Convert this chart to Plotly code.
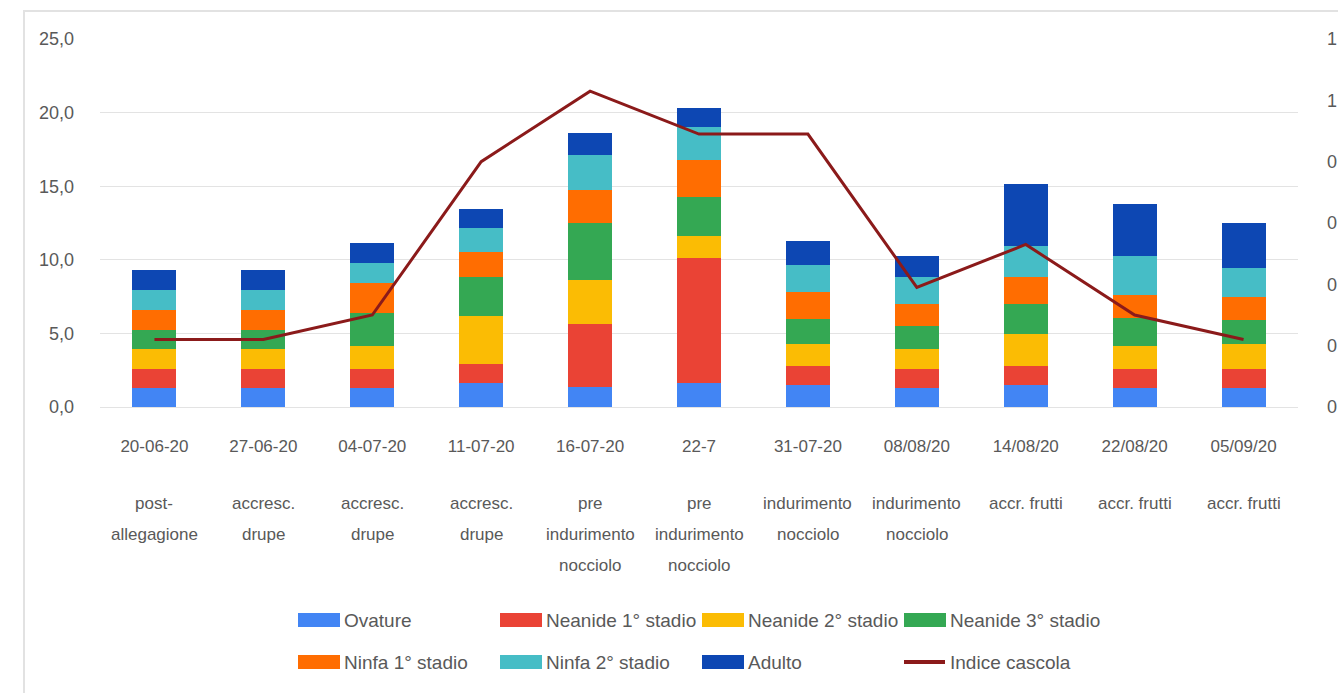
import plotly.graph_objects as go

dates = ["20-06-20", "27-06-20", "04-07-20", "11-07-20", "16-07-20", "22-7",
         "31-07-20", "08/08/20", "14/08/20", "22/08/20", "05/09/20"]
stages = [["post-", "allegagione"], ["accresc.", "drupe"], ["accresc.", "drupe"],
          ["accresc.", "drupe"], ["pre", "indurimento", "nocciolo"],
          ["pre", "indurimento", "nocciolo"], ["indurimento", "nocciolo"],
          ["indurimento", "nocciolo"], ["accr. frutti"], ["accr. frutti"], ["accr. frutti"]]

ovature = [1.29, 1.29, 1.29, 1.63, 1.36, 1.63, 1.47, 1.29, 1.47, 1.29, 1.29]
neanide1 = [1.32, 1.32, 1.32, 1.32, 4.26, 8.46, 1.32, 1.32, 1.32, 1.32, 1.32]
neanide2 = [1.36, 1.36, 1.52, 3.24, 3.04, 1.52, 1.52, 1.36, 2.20, 1.54, 1.70]
neanide3 = [1.29, 1.29, 2.26, 2.61, 3.81, 2.68, 1.65, 1.52, 1.99, 1.90, 1.63]
ninfa1 = [1.36, 1.36, 2.05, 1.70, 2.27, 2.49, 1.86, 1.49, 1.86, 1.55, 1.54]
ninfa2 = [1.36, 1.36, 1.36, 1.63, 2.38, 2.22, 1.82, 1.86, 2.09, 2.65, 1.98]
adulto = [1.36, 1.36, 1.36, 1.32, 1.47, 1.29, 1.65, 1.41, 4.22, 3.51, 3.01]
indice_cascola = [0.22, 0.22, 0.30, 0.80, 1.03, 0.89, 0.89, 0.39, 0.53, 0.30, 0.22]

left_ticks = [0, 5, 10, 15, 20, 25]
right_ticks = [0, 0.2, 0.4, 0.6, 0.8, 1, 1.2]

W, H = 1338, 693
ML, MR, MT, MB = 100, 40, 39, 286
PW, PH = W - ML - MR, H - MT - MB


def px_x(px):
    return (px - ML) / PW


def px_y(py):
    return (H - MB - py) / PH


FONT = "Liberation Sans, Arial, sans-serif"
TXT = "#595959"
LINE_COLOR = "#8B1A1A"

series = [
    ("Ovature", ovature, "#4285F4", "legend"),
    ("Neanide 1° stadio", neanide1, "#EA4335", "legend"),
    ("Neanide 2° stadio", neanide2, "#FBBC04", "legend"),
    ("Neanide 3° stadio", neanide3, "#34A853", "legend"),
    ("Ninfa 1° stadio", ninfa1, "#FF6D01", "legend2"),
    ("Ninfa 2° stadio", ninfa2, "#46BDC6", "legend2"),
    ("Adulto", adulto, "#0D47B3", "legend2"),
]

fig = go.Figure()
for name, vals, color, lg in series:
    fig.add_trace(go.Bar(x=dates, y=vals, name=name,
                         marker=dict(color=color, line=dict(width=0)), legend=lg))

fig.add_trace(go.Scatter(x=dates, y=indice_cascola, name="Indice cascola", mode="lines",
                         line=dict(color=LINE_COLOR, width=3), yaxis="y2", legend="legend2"))

# stage labels under the dates (one annotation per text line)
annotations = []
for d, lines in zip(dates, stages):
    for j, line in enumerate(lines):
        annotations.append(dict(x=d, xref="x", y=px_y(503 + 31 * j), yref="paper",
                                text=line, showarrow=False, xanchor="center", yanchor="middle",
                                font=dict(family=FONT, size=17, color=TXT)))

# legend layout (two rows, 4 columns of 202 px)
LEG_X0 = 296
COL = 202
ROW_Y = [620, 662]
legend_common = dict(orientation="h", xanchor="left", yanchor="middle",
                     entrywidth=COL - 38 - 10 - 5, entrywidthmode="pixels",
                     font=dict(family=FONT, size=19, color=TXT),
                     bgcolor="rgba(0,0,0,0)", itemwidth=38, traceorder="normal")

# wide swatches like the original legend
shapes = [dict(type="path", xref="paper", yref="paper",
               path=f"M {px_x(24)} {px_y(693)} L {px_x(24)} {px_y(11)} L {px_x(1338)} {px_y(11)}",
               line=dict(color="#E2E2E2", width=2), layer="below")]
for k, (name, vals, color, lg) in enumerate(series):
    row = 0 if lg == "legend" else 1
    col = k if row == 0 else k - 4
    x0 = LEG_X0 + 2 + col * COL
    yc = ROW_Y[row]
    shapes.append(dict(type="rect", xref="paper", yref="paper",
                       x0=px_x(x0), x1=px_x(x0 + 42), y0=px_y(yc - 7), y1=px_y(yc + 7),
                       fillcolor=color, line=dict(width=0), layer="above"))
x0 = LEG_X0 + 2 + 3 * COL
shapes.append(dict(type="line", xref="paper", yref="paper",
                   x0=px_x(x0), x1=px_x(x0 + 41), y0=px_y(ROW_Y[1]), y1=px_y(ROW_Y[1]),
                   line=dict(color=LINE_COLOR, width=4), layer="above"))

fig.update_layout(
    width=W, height=H,
    margin=dict(l=ML, r=MR, t=MT, b=MB, autoexpand=False),
    paper_bgcolor="white", plot_bgcolor="white",
    barmode="stack", bargap=0.596,
    separators=",.",
    font=dict(family=FONT, size=17, color=TXT),
    xaxis=dict(type="category", tickmode="array", tickvals=dates, ticktext=dates,
               tickangle=0, showgrid=False, showline=False, zeroline=False, ticks="",
               ticklabelstandoff=27, tickfont=dict(family=FONT, size=17, color=TXT),
               automargin=False),
    yaxis=dict(range=[0, 25], tickvals=left_ticks, tickformat=".1f",
               showgrid=True, gridcolor="#E3E3E3", gridwidth=1, zeroline=True,
               zerolinecolor="#E3E3E3", zerolinewidth=1, showline=False, ticks="",
               ticklabelstandoff=25, tickfont=dict(family=FONT, size=18, color=TXT),
               automargin=False),
    yaxis2=dict(range=[0, 1.2], tickvals=right_ticks, overlaying="y", side="right",
                showgrid=False, zeroline=False, showline=False, ticks="",
                ticklabelstandoff=28, tickfont=dict(family=FONT, size=18, color=TXT),
                automargin=False),
    legend=dict(x=px_x(LEG_X0), y=px_y(ROW_Y[0]), **legend_common),
    legend2=dict(x=px_x(LEG_X0), y=px_y(ROW_Y[1]), **legend_common),
    shapes=shapes,
    annotations=annotations,
)

fig.write_html("out.html")
